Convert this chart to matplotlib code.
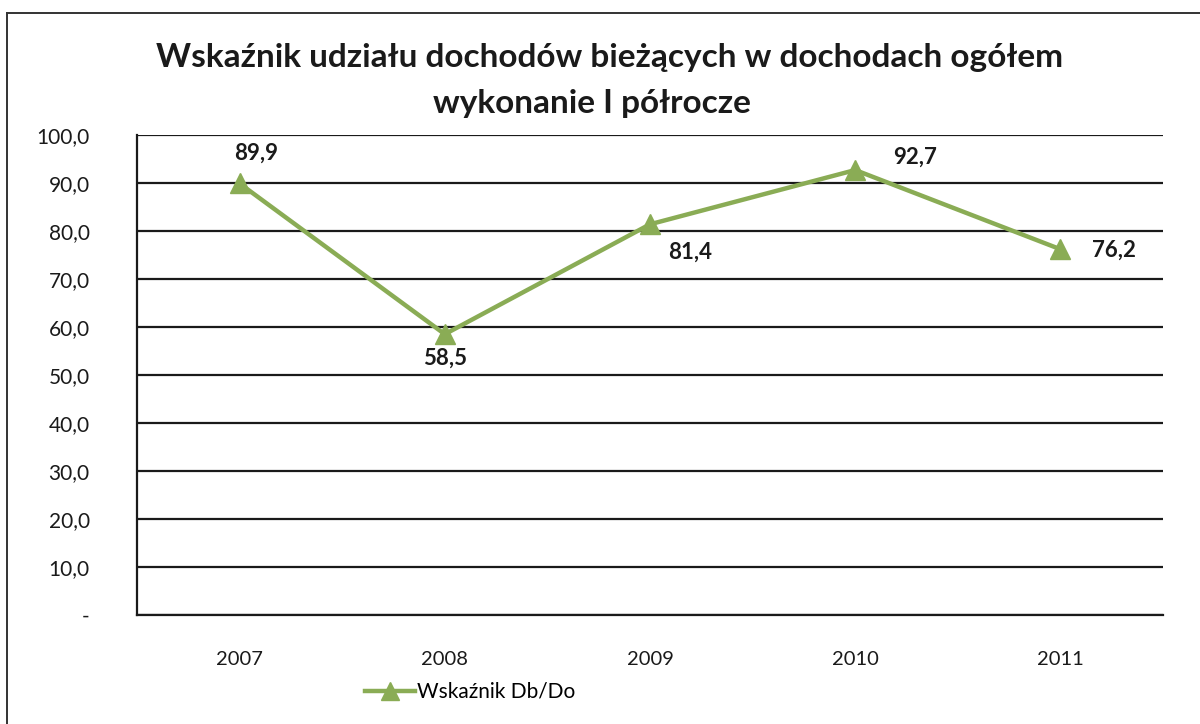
"""Wskaźnik udziału dochodów bieżących w dochodach ogółem - wykres liniowy."""
import matplotlib
matplotlib.use("Agg")
import matplotlib.pyplot as plt
from matplotlib.lines import Line2D

years = ["2007", "2008", "2009", "2010", "2011"]
values = [89.9, 58.5, 81.4, 92.7, 76.2]
value_labels = ["89,9", "58,5", "81,4", "92,7", "76,2"]
y_ticks = [0, 10, 20, 30, 40, 50, 60, 70, 80, 90, 100]
y_tick_labels = ["-", "10,0", "20,0", "30,0", "40,0", "50,0", "60,0",
                 "70,0", "80,0", "90,0", "100,0"]
series_name = "Wskaźnik Db/Do"

GREEN = "#8aac55"
INK = "#1a1a1a"
plt.rcParams["font.family"] = ["Lato", "DejaVu Sans"]

W, H = 1200, 724
fig = plt.figure(figsize=(W / 100, H / 100), dpi=100, facecolor="white")
ax = fig.add_axes([137 / W, 1 - 615 / H, (1163 - 137) / W, (615 - 135) / H])

x = list(range(len(years)))
ax.plot(x, values, color=GREEN, lw=3.2, marker="^", markersize=14,
        markerfacecolor=GREEN, markeredgecolor=GREEN, zorder=3, clip_on=False)

# data labels placed like in the Excel original
offsets = [(12, 22, "center"), (0, -17, "center"), (13, -20, "left"),
           (27, 9, "left"), (23, -1, "left")]
for xi, v, lab, (dx, dy, ha) in zip(x, values, value_labels, offsets):
    ax.annotate(lab, (xi, v), xytext=(dx, dy), textcoords="offset points",
                ha=ha, va="center", fontsize=16, fontweight="bold", color=INK)

ax.set_xlim(-0.5, len(years) - 0.5)
ax.set_ylim(0, 100)
ax.set_yticks(y_ticks)
ax.set_yticklabels(y_tick_labels)
ax.set_xticks(x)
ax.set_xticklabels(years)
ax.tick_params(axis="both", length=0, colors=INK)
ax.tick_params(axis="y", pad=34, labelsize=15)
ax.tick_params(axis="x", pad=26, labelsize=14.5)

ax.grid(axis="y", color=INK, lw=1.6)
ax.set_axisbelow(True)
for sp in ("top", "right"):
    ax.spines[sp].set_visible(False)
ax.spines["left"].set_color(INK)
ax.spines["left"].set_linewidth(1.6)
ax.spines["bottom"].set_color(INK)
ax.spines["bottom"].set_linewidth(1.6)

fig.text(0.5 + 10 / W, 1 - 57 / H, "Wskaźnik udziału dochodów bieżących w dochodach ogółem",
         ha="center", va="center", fontsize=24, fontweight="bold", color=INK)
fig.text(0.5 - 8 / W, 1 - 103 / H, "wykonanie I półrocze",
         ha="center", va="center", fontsize=24, fontweight="bold", color=INK)

handle = Line2D([], [], color=GREEN, lw=3.2, marker="^", markersize=13,
                markerfacecolor=GREEN, markeredgecolor=GREEN)
fig.legend([handle], [series_name], loc="center", bbox_to_anchor=(470 / W, 1 - 692 / H),
           frameon=False, fontsize=15, handlelength=2.4, handletextpad=0.1)

# outer chart border (top and left visible in the scan)
fig.add_artist(Line2D([7 / W, 1], [1 - 13 / H, 1 - 13 / H], color="#333", lw=1.4))
fig.add_artist(Line2D([7 / W, 7 / W], [0, 1 - 13 / H], color="#333", lw=1.4))

fig.savefig("out.png", dpi=100, facecolor="white")
